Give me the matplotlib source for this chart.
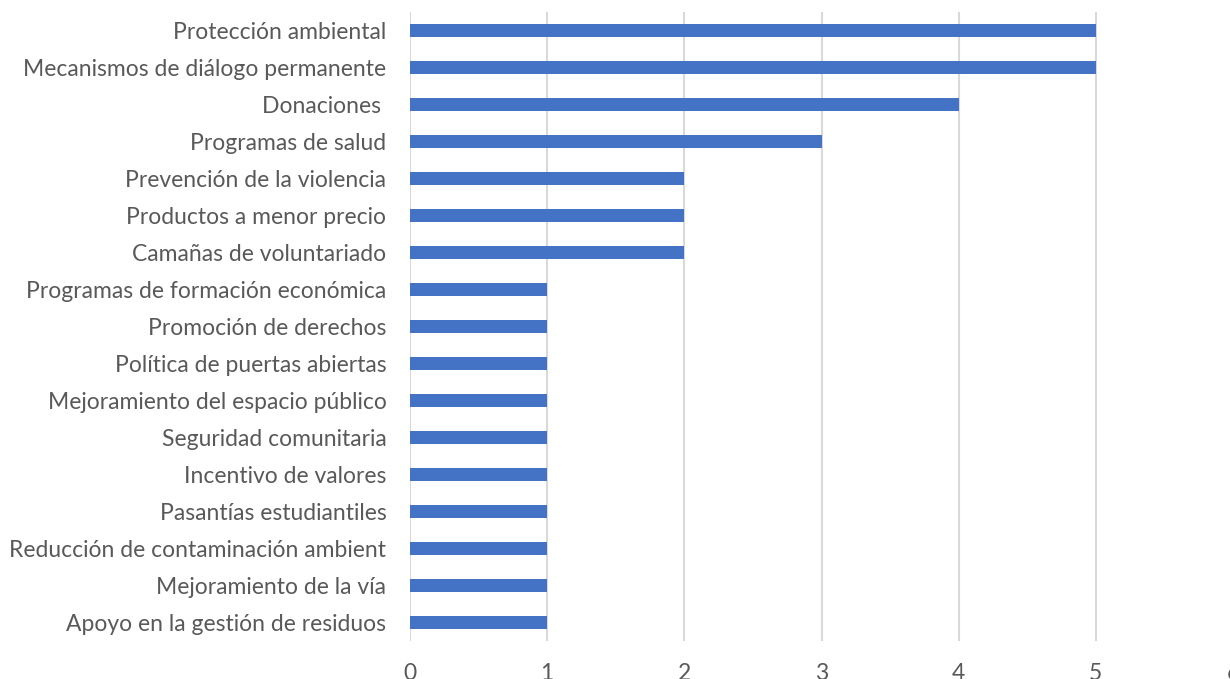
import matplotlib.pyplot as plt

categories = [
    "Protección ambiental",
    "Mecanismos de diálogo permanente",
    "Donaciones ",
    "Programas de salud",
    "Prevención de la violencia",
    "Productos a menor precio",
    "Camañas de voluntariado",
    "Programas de formación económica",
    "Promoción de derechos",
    "Política de puertas abiertas",
    "Mejoramiento del espacio público",
    "Seguridad comunitaria",
    "Incentivo de valores",
    "Pasantías estudiantiles",
    "Reducción de contaminación ambient",
    "Mejoramiento de la vía",
    "Apoyo en la gestión de residuos",
]
values = [5, 5, 4, 3, 2, 2, 2, 1, 1, 1, 1, 1, 1, 1, 1, 1, 1]
xticks = [0, 1, 2, 3, 4, 5, 6]

plt.rcParams['font.family'] = ['Lato', 'DejaVu Sans']

fig = plt.figure(figsize=(12.3, 6.79), dpi=100)
ax = fig.add_axes([410 / 1230, 38 / 679, 823 / 1230, 629 / 679])

pos = list(range(len(categories)))[::-1]
ax.barh(pos, values, height=0.36, color='#4472C4', zorder=3)

ax.set_xlim(0, 6)
ax.set_ylim(-0.5, len(categories) - 0.5)
ax.set_xticks(xticks)
ax.set_yticks(pos)
ax.set_yticklabels(categories)
ax.grid(axis='x', color='#d9d9d9', linewidth=1.5, zorder=0)
for s in ax.spines.values():
    s.set_visible(False)
ax.tick_params(axis='both', length=0, colors='#595959', labelsize=16.5)
ax.tick_params(axis='y', pad=17)
ax.tick_params(axis='x', pad=15.5)

fig.savefig('out.png', dpi=100)
